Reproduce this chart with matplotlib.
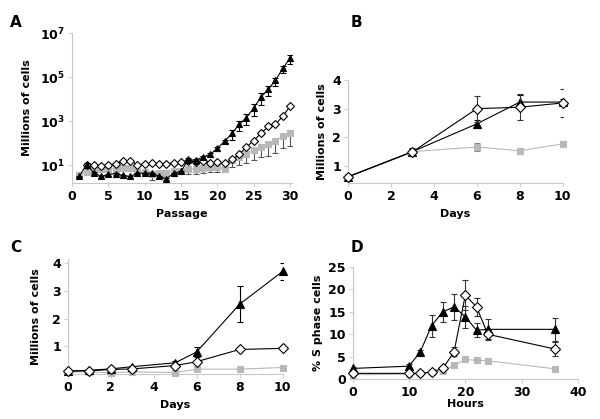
import numpy as np
import matplotlib.pyplot as plt
from matplotlib.ticker import FixedLocator, NullLocator

# Panel A: cumulative growth over passages (log10 of millions of cells)
passage = np.arange(1, 31)
a_tri_log = [0.51, 1.04, 0.68, 0.50, 0.59, 0.63, 0.55, 0.50, 0.65, 0.65,
             0.65, 0.50, 0.40, 0.65, 0.73, 1.27, 1.23, 1.38, 1.50, 1.77,
             2.10, 2.45, 2.86, 3.17, 3.60, 4.10, 4.45, 4.86, 5.40, 5.86]
a_dia_log = [None, 1.03, 1.03, 0.96, 1.03, 1.07, 1.18, 1.22, 1.03, 1.07,
             1.10, 1.07, 1.07, 1.12, 1.15, 1.22, 1.15, 1.20, 1.12, 1.15,
             1.10, 1.27, 1.50, 1.83, 2.13, 2.45, 2.77, 2.86, 3.23, 3.68]
a_sq_log = [0.55, 0.70, 0.77, 0.82, 0.85, 0.85, 0.88, 0.88, 0.77, 0.70,
            0.63, 0.67, 0.67, 0.73, 0.77, 0.82, 0.85, 0.88, 0.92, 0.92,
            0.85, 1.25, 1.38, 1.53, 1.68, 1.83, 1.95, 2.13, 2.32, 2.47]
# error bar lengths in decades
a_tri_err = [0.05, 0.1, 0.05, 0.05, 0.05, 0.05, 0.05, 0.05, 0.05, 0.05,
             0.05, 0.05, 0.05, 0.05, 0.05, 0.15, 0.15, 0.1, 0.1, 0.1,
             0.1, 0.3, 0.3, 0.35, 0.35, 0.35, 0.3, 0.25, 0.2, 0.25]
a_sq_err = [0.1, 0.1, 0.1, 0.1, 0.1, 0.1, 0.1, 0.1, 0.1, 0.1,
            0.3, 0.1, 0.1, 0.1, 0.1, 0.2, 0.25, 0.2, 0.2, 0.2,
            0.1, 0.3, 0.35, 0.4, 0.45, 0.45, 0.5, 0.55, 0.55, 0.6]

# Panel B
b_days = [0, 3, 6, 8, 10]
b_tri = [0.62, 1.5, 2.47, 3.23, 3.23]
b_tri_err = [0.05, 0.1, 0.15, 0.25, 0.1]
b_dia = [0.62, 1.49, 3.0, 3.05, 3.2]
b_dia_err = [0.05, 0.15, 0.45, 0.45, 0.5]
b_sq = [0.62, 1.5, 1.66, 1.53, 1.77]
b_sq_err = [0.05, 0.1, 0.15, 0.1, 0.1]

# Panel C
c_days = [0, 1, 2, 3, 5, 6, 8, 10]
c_tri = [0.11, 0.14, 0.19, 0.27, 0.41, 0.80, 2.52, 3.70]
c_tri_err = [0.02, 0.02, 0.03, 0.03, 0.05, 0.17, 0.65, 0.32]
c_dia = [0.11, 0.12, 0.17, 0.19, 0.31, 0.45, 0.89, 0.93]
c_dia_err = [0.02, 0.02, 0.02, 0.03, 0.03, 0.05, 0.05, 0.04]
c_sq = [0.08, 0.08, 0.05, 0.08, 0.06, 0.18, 0.18, 0.24]

# Panel D
d_hours = [0, 10, 12, 14, 16, 18, 20, 22, 24, 36]
d_tri = [2.4, 2.9, 6.1, 11.9, 15.0, 16.1, 13.9, 10.9, 11.1, 11.1]
d_tri_err = [0.3, 0.5, 0.4, 2.4, 2.2, 2.9, 2.4, 1.5, 2.3, 2.6]
d_dia = [1.3, 1.3, 1.3, 1.6, 2.4, 6.1, 18.7, 16.1, 10.0, 6.7]
d_dia_err = [0.2, 0.2, 0.2, 0.2, 0.3, 1.0, 3.4, 2.0, 1.0, 1.6]
d_sq = [1.0, 1.1, 1.3, 1.5, 1.8, 3.1, 4.4, 4.2, 4.1, 2.3]

SQ = '#b8b8b8'
BOLD = dict(fontweight='bold', fontsize=8)


def style(ax):
    for s in ['top', 'right']:
        ax.spines[s].set_visible(False)
    for s in ['left', 'bottom']:
        ax.spines[s].set_color('#c8c8c8')
        ax.spines[s].set_linewidth(0.8)
    ax.tick_params(direction='out', length=3, width=0.6, color='#c8c8c8',
                   labelsize=9, pad=2)
    for lab in ax.get_xticklabels() + ax.get_yticklabels():
        lab.set_fontweight('bold')


def series(ax, x, y, err, mk, face, line, ecol, ms=5, lw=0.8, z=3):
    ax.plot(x, y, color=line, lw=lw, zorder=z)
    if err is not None:
        ax.errorbar(x, y, yerr=err, fmt='none', ecolor=ecol, elinewidth=0.8,
                    capsize=2, capthick=0.8, zorder=z)
    ax.plot(x, y, ls='none', marker=mk, ms=ms, mfc=face,
            mec='black' if face != SQ else SQ, mew=0.8, zorder=z + 1,
            clip_on=False)


fig = plt.figure(figsize=(6, 4.19), dpi=100)

# ---- A ----
ax = fig.add_axes([0.12, 0.563, 0.367, 0.358])
tri = 10 ** np.array(a_tri_log)
sq = 10 ** np.array(a_sq_log)
dia_x = [p for p, v in zip(passage, a_dia_log) if v is not None]
dia = 10 ** np.array([v for v in a_dia_log if v is not None])
tri_lo = tri - tri * 10 ** (-np.array(a_tri_err))
tri_hi = tri * 10 ** (np.array(a_tri_err) * 0.5) - tri
sq_lo = sq - sq * 10 ** (-np.array(a_sq_err))
series(ax, passage, sq, [sq_lo, np.zeros_like(sq)], 's', SQ, SQ, '#555555', ms=4.2, z=2)
series(ax, dia_x, dia, None, 'D', 'white', 'black', 'black', ms=4.2, z=3)
series(ax, passage, tri, [tri_lo, tri_hi], '^', 'black', 'black', 'black', ms=4.8, z=4)
ax.set_yscale('log')
ax.set_ylim(10 ** 0.2, 1e7)
ax.set_xlim(0, 30.3)
ax.yaxis.set_major_locator(FixedLocator([1e1, 1e3, 1e5, 1e7]))
ax.yaxis.set_minor_locator(NullLocator())
ax.set_yticklabels([r'$\mathbf{10^{1}}$', r'$\mathbf{10^{3}}$',
                    r'$\mathbf{10^{5}}$', r'$\mathbf{10^{7}}$'])
ax.set_xticks(range(0, 31, 5))
style(ax)
ax.set_xlabel('Passage', labelpad=4, **BOLD)
ax.set_ylabel('Millions of cells', labelpad=6, **BOLD)
fig.text(0.017, 0.965, 'A', fontsize=11, fontweight='bold', va='top')

# ---- B ----
ax = fig.add_axes([0.58, 0.563, 0.358, 0.246])
series(ax, b_days, b_sq, b_sq_err, 's', SQ, SQ, '#888888', z=2)
series(ax, b_days, b_tri, b_tri_err, '^', 'black', 'black', 'black', ms=5.5, z=3)
series(ax, b_days, b_dia, b_dia_err, 'D', 'white', 'black', '#333333', z=4)
ax.set_xlim(0, 10)
ax.set_ylim(0.4, 4)
ax.set_xticks([0, 2, 4, 6, 8, 10])
ax.set_yticks([1, 2, 3, 4])
style(ax)
ax.set_xlabel('Days', labelpad=4, **BOLD)
ax.set_ylabel('Millions of cells', labelpad=4, **BOLD)
fig.text(0.585, 0.965, 'B', fontsize=11, fontweight='bold', va='top')

# ---- C ----
ax = fig.add_axes([0.113, 0.107, 0.358, 0.275])
series(ax, c_days, c_sq, None, 's', SQ, SQ, '#888888', z=2)
series(ax, c_days, c_tri, c_tri_err, '^', 'black', 'black', 'black', ms=5.5, z=3)
series(ax, c_days, c_dia, c_dia_err, 'D', 'white', 'black', 'black', z=4)
ax.set_xlim(0, 10)
ax.set_ylim(0, 4.15)
ax.set_xticks([0, 2, 4, 6, 8, 10])
ax.set_yticks([1, 2, 3, 4])
style(ax)
ax.set_xlabel('Days', labelpad=4, **BOLD)
ax.set_ylabel('Millions of cells', labelpad=8, **BOLD)
fig.text(0.017, 0.428, 'C', fontsize=11, fontweight='bold', va='top')

# ---- D ----
ax = fig.add_axes([0.588, 0.095, 0.375, 0.268])
series(ax, d_hours, d_sq, None, 's', SQ, SQ, '#888888', z=2)
series(ax, d_hours, d_tri, d_tri_err, '^', 'black', 'black', '#333333', ms=5.5, z=3)
series(ax, d_hours, d_dia, d_dia_err, 'D', 'white', 'black', '#333333', z=4)
ax.set_xlim(0, 40)
ax.set_ylim(0, 25)
ax.set_xticks([0, 10, 20, 30, 40])
ax.set_yticks([0, 5, 10, 15, 20, 25])
style(ax)
ax.set_xlabel('Hours', labelpad=0, **BOLD)
ax.set_ylabel('% S phase cells', labelpad=4, **BOLD)
fig.text(0.585, 0.428, 'D', fontsize=11, fontweight='bold', va='top')

fig.savefig('out.png', dpi=100)
